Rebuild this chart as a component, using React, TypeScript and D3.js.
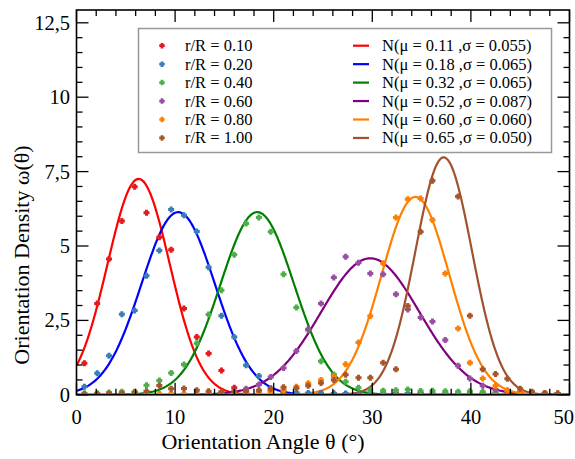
import React, { useRef, useEffect } from "react";
import * as d3 from "d3";

// Orientation angle grid (degrees) at which the measured densities are given
const thetas = [0.8, 2.1, 3.3, 4.6, 5.9, 7.1, 8.4, 9.6, 10.9, 12.2, 13.4, 14.7, 16.0, 17.2, 18.5, 19.7, 21.0, 22.3, 23.5, 24.8, 26.1, 27.3, 28.6, 29.8, 31.1, 32.4, 33.6, 34.9, 36.1, 37.4, 38.7, 39.9, 41.2, 42.5, 43.7, 45.0, 46.2, 47.5, 48.8];

const pointLabels = ["r/R = 0.10", "r/R = 0.20", "r/R = 0.40", "r/R = 0.60", "r/R = 0.80", "r/R = 1.00"];
const fitLabels = ["N(\u03bc = 0.11 ,\u03c3 = 0.055)", "N(\u03bc = 0.18 ,\u03c3 = 0.065)", "N(\u03bc = 0.32 ,\u03c3 = 0.065)", "N(\u03bc = 0.52 ,\u03c3 = 0.087)", "N(\u03bc = 0.60 ,\u03c3 = 0.060)", "N(\u03bc = 0.65 ,\u03c3 = 0.050)"];
const fitMu = [0.11, 0.18, 0.32, 0.52, 0.60, 0.65];
const fitSigma = [0.055, 0.065, 0.065, 0.087, 0.060, 0.050];

const r010 = [1.06, 3.07, 4.56, 5.84, 6.99, 6.12, 5.29, 4.87, 2.9, 1.94, 1.39, 0.82, 0.24, 0.1, 0.08, 0.12, 0.05, 0.04, 0.03, 0.05, 0.04, 0.03, 0.04, 0.05, 0.03, 0.04, 0.03, 0.04, 0.03, 0.03, 0.04, 0.03, 0.03, 0.04, 0.03, 0.03, 0.05, 0.03, 0.04];
const r020 = [0.27, 0.72, 1.31, 2.71, 2.83, 4.0, 4.85, 6.23, 6.03, 5.49, 4.29, 2.66, 1.94, 0.99, 0.63, 0.22, 0.1, 0.08, 0.06, 0.05, 0.04, 0.04, 0.03, 0.04, 0.03, 0.03, 0.04, 0.03, 0.03, 0.03, 0.03, 0.03, 0.04, 0.03, 0.03, 0.03, 0.03, 0.03, 0.03];
const r040 = [0.05, 0.05, 0.08, 0.1, 0.1, 0.32, 0.48, 0.73, 1.02, 1.73, 2.7, 3.51, 4.71, 5.76, 5.96, 5.48, 4.05, 2.93, 2.18, 1.13, 0.68, 0.44, 0.24, 0.16, 0.14, 0.15, 0.18, 0.13, 0.14, 0.12, 0.1, 0.12, 0.1, 0.08, 0.1, 0.08, 0.06, 0.05, 0.04];
const r060 = [0.02, 0.02, 0.02, 0.02, 0.02, 0.02, 0.02, 0.02, 0.02, 0.02, 0.03, 0.07, 0.12, 0.2, 0.35, 0.6, 0.9, 1.47, 2.2, 3.07, 3.94, 4.64, 4.44, 4.08, 4.05, 3.38, 2.87, 2.6, 2.46, 1.84, 0.98, 0.55, 0.3, 0.18, 0.1, 0.06, 0.05, 0.03, 0.02];
const r080 = [0.02, 0.02, 0.02, 0.02, 0.02, 0.02, 0.02, 0.02, 0.02, 0.02, 0.02, 0.02, 0.02, 0.05, 0.08, 0.12, 0.15, 0.27, 0.39, 0.5, 0.61, 1.03, 1.76, 2.65, 4.42, 5.96, 6.57, 6.6, 5.87, 4.08, 2.23, 1.08, 0.55, 0.3, 0.15, 0.1, 0.05, 0.04, 0.03];
const r100 = [0.02, 0.03, 0.04, 0.05, 0.08, 0.12, 0.31, 0.2, 0.21, 0.15, 0.12, 0.1, 0.1, 0.12, 0.15, 0.2, 0.25, 0.22, 0.3, 0.4, 0.5, 0.67, 0.57, 0.57, 1.08, 0.86, 2.98, 5.48, 7.19, 8.5, 6.66, 2.66, 0.86, 0.7, 0.54, 0.2, 0.1, 0.06, 0.04];

const pointSeries = [r010, r020, r040, r060, r080, r100];
const pointColors = ["#e41a1c", "#377eb8", "#4daf4a", "#984ea3", "#ff7f00", "#a65628"];
const lineColors = ["#ff0000", "#0000ff", "#008000", "#800080", "#ff8000", "#a0522d"];

const xMajor = [0, 10, 20, 30, 40, 50];
const yMajor = [0, 2.5, 5, 7.5, 10, 12.5];

const FONT = "'Liberation Serif', 'Times New Roman', serif";

// chunky plus-shaped marker
const plusSymbol = {
  draw(ctx: any, size: number) {
    const w = Math.sqrt(size) / 2; // half width
    const t = w * 0.5; // half arm thickness
    ctx.moveTo(-t, -w);
    ctx.lineTo(t, -w);
    ctx.lineTo(t, -t);
    ctx.lineTo(w, -t);
    ctx.lineTo(w, t);
    ctx.lineTo(t, t);
    ctx.lineTo(t, w);
    ctx.lineTo(-t, w);
    ctx.lineTo(-t, t);
    ctx.lineTo(-w, t);
    ctx.lineTo(-w, -t);
    ctx.lineTo(-t, -t);
    ctx.closePath();
  },
};

export default function App() {
  const ref = useRef<SVGSVGElement>(null);

  useEffect(() => {
    const svg = d3.select(ref.current);
    svg.selectAll("*").remove();

    const L = 76.5, R = 569.5, T = 10, B = 394.8;
    const x = d3.scaleLinear().domain([0, 50]).range([L, R]);
    const y = d3.scaleLinear().domain([0, 12.5]).range([B, 22.8]);

    svg.append("rect").attr("width", 575).attr("height", 459).attr("fill", "#fff");

    svg.append("defs").append("clipPath").attr("id", "plotclip")
      .append("rect").attr("x", L).attr("y", T).attr("width", R - L).attr("height", B - T);

    const plot = svg.append("g").attr("clip-path", "url(#plotclip)");

    // fitted normal curves (theta in radians, plotted in degrees)
    const grid = d3.range(0, 50.0001, 0.1);
    fitMu.forEach((mu, i) => {
      const s = fitSigma[i];
      const pdf = (deg: number) => {
        const t = (deg * Math.PI) / 180;
        return Math.exp(-0.5 * ((t - mu) / s) ** 2) / (s * Math.sqrt(2 * Math.PI));
      };
      const line = d3.line<number>().x((d) => x(d)).y((d) => y(pdf(d)));
      plot.append("path").attr("d", line(grid) as string)
        .attr("fill", "none").attr("stroke", lineColors[i]).attr("stroke-width", 2.2);
    });

    // measured points
    const sym = d3.symbol().type(plusSymbol as any).size(36)();
    pointSeries.forEach((vals, i) => {
      plot.append("g").selectAll("path").data(vals).enter().append("path")
        .attr("d", sym as string)
        .attr("transform", (v, j) => `translate(${x(thetas[j])},${y(v)})`)
        .attr("fill", pointColors[i]);
    });

    // axes ticks (inward on all sides)
    const axes = svg.append("g").attr("stroke", "#000");
    const xMinor = d3.range(0, 50.001, 2).filter((v) => !xMajor.includes(v));
    const yMinor = d3.range(0, 12.9, 0.5).filter((v) => !yMajor.some((m) => Math.abs(m - v) < 1e-6));
    const drawX = (vals: number[], len: number) => {
      vals.forEach((v) => {
        axes.append("line").attr("x1", x(v)).attr("x2", x(v)).attr("y1", B).attr("y2", B - len).attr("stroke-width", 1.3);
        axes.append("line").attr("x1", x(v)).attr("x2", x(v)).attr("y1", T).attr("y2", T + len).attr("stroke-width", 1.3);
      });
    };
    const drawY = (vals: number[], len: number) => {
      vals.forEach((v) => {
        axes.append("line").attr("y1", y(v)).attr("y2", y(v)).attr("x1", L).attr("x2", L + len).attr("stroke-width", 1.3);
        axes.append("line").attr("y1", y(v)).attr("y2", y(v)).attr("x1", R).attr("x2", R - len).attr("stroke-width", 1.3);
      });
    };
    drawX(xMajor, 12);
    drawX(xMinor, 6);
    drawY(yMajor, 12);
    drawY(yMinor, 6);

    svg.append("rect").attr("x", L).attr("y", T).attr("width", R - L).attr("height", B - T)
      .attr("fill", "none").attr("stroke", "#000").attr("stroke-width", 1.6);

    // tick labels
    const lab = svg.append("g").attr("font-family", FONT).attr("font-size", 20.5).attr("fill", "#000");
    xMajor.forEach((v, i) => {
      const last = i === xMajor.length - 1;
      lab.append("text").attr("x", last ? 574 : x(v)).attr("y", 424)
        .attr("text-anchor", last ? "end" : "middle").text(String(v));
    });
    yMajor.forEach((v) => {
      lab.append("text").attr("x", 70).attr("y", y(v) + 7)
        .attr("text-anchor", "end").text(String(v).replace(".", ","));
    });

    // axis titles
    svg.append("text").attr("x", 263).attr("y", 449).attr("text-anchor", "middle")
      .attr("font-family", FONT).attr("font-size", 22).text("Orientation Angle \u03b8 (\u00b0)");
    svg.append("text").attr("transform", "translate(29,255) rotate(-90)").attr("text-anchor", "middle")
      .attr("font-family", FONT).attr("font-size", 22).text("Orientation Density \u03c9(\u03b8)");

    // legend (opaque, drawn over the plot)
    const lg = svg.append("g");
    lg.append("rect").attr("x", 138.5).attr("y", 28.5).attr("width", 413).attr("height", 124)
      .attr("fill", "#fff").attr("stroke", "#999").attr("stroke-width", 1.5);
    const legSym = d3.symbol().type(plusSymbol as any).size(30)();
    pointLabels.forEach((lbl, i) => {
      const cy = 45.7 + i * 18.45;
      lg.append("path").attr("d", legSym as string).attr("transform", `translate(162,${cy})`).attr("fill", pointColors[i]);
      lg.append("text").attr("x", 185).attr("y", cy + 5.5).attr("font-family", FONT).attr("font-size", 16.5).text(lbl);
      lg.append("line").attr("x1", 353).attr("x2", 369).attr("y1", cy).attr("y2", cy)
        .attr("stroke", lineColors[i]).attr("stroke-width", 2.2);
      lg.append("text").attr("x", 382).attr("y", cy + 5.5).attr("font-family", FONT).attr("font-size", 16.5).text(fitLabels[i]);
    });
  }, []);

  return <svg ref={ref} width={575} height={459} style={{ position: "absolute", left: 0, top: 0 }} />;
}
